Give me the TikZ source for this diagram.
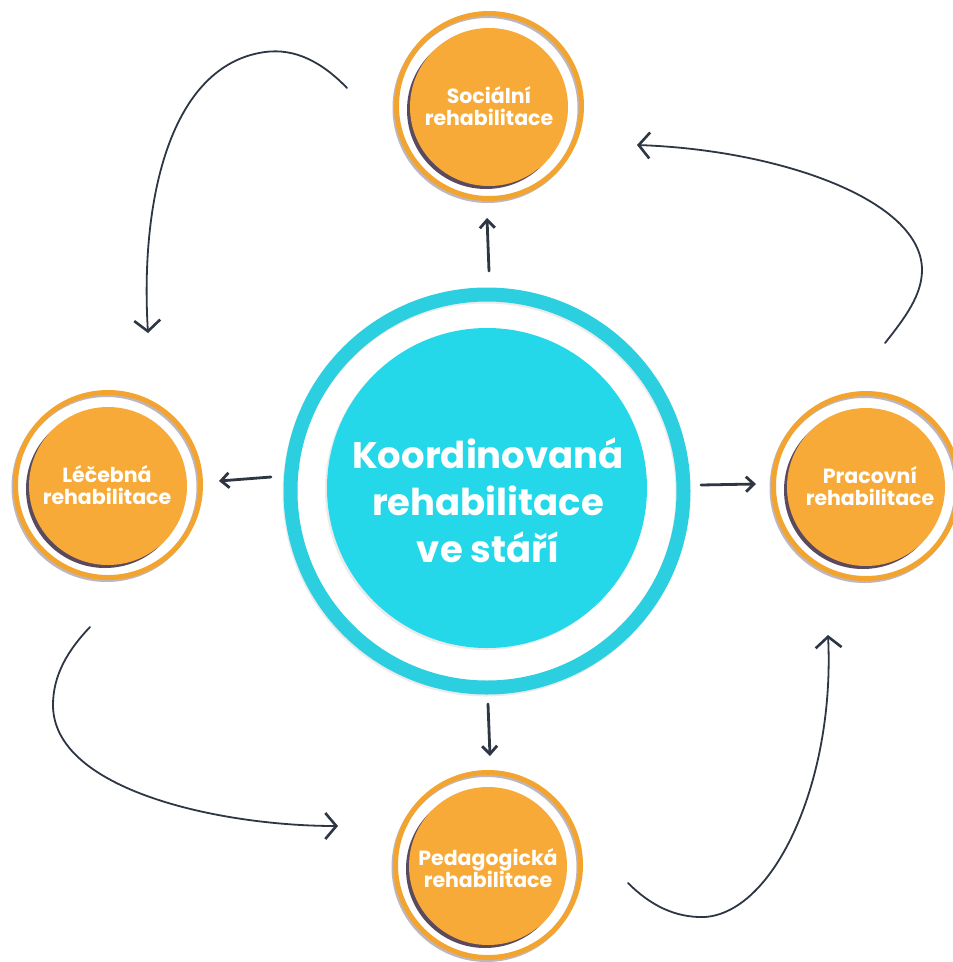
\documentclass[tikz,border=0pt]{standalone}
\usepackage{fontspec}
\setmainfont{Poppins}
\usetikzlibrary{arrows.meta}
\definecolor{orng}{HTML}{F7AA38}
\definecolor{orngring}{HTML}{F3A42E}
\definecolor{cyn}{HTML}{24D7E9}
\definecolor{cynring}{HTML}{2BCFE0}
\definecolor{ink}{HTML}{2E3644}
\definecolor{shade}{HTML}{5B4A5E}
\tikzset{
  oring/.style={circle, draw=orngring, line width=5pt, minimum size=185pt, inner sep=0pt},
  oringshadow/.style={circle, draw=shade, draw opacity=0.4, line width=5pt, minimum size=185pt, inner sep=0pt},
  odisk/.style={circle, fill=orng, minimum size=158pt, inner sep=0pt},
  odiskshadow/.style={circle, fill=shade, minimum size=158pt, inner sep=0pt},
  olabel/.style={text=white, font=\bfseries\fontsize{20.5}{22.5}\selectfont, align=center, inner sep=0pt},
  cring/.style={circle, draw=cynring, line width=14pt, minimum size=393pt, inner sep=0pt},
  cringshadow/.style={circle, draw=black, draw opacity=0.08, line width=14pt, minimum size=393pt, inner sep=0pt},
  cdisk/.style={circle, fill=cyn, minimum size=320pt, inner sep=0pt},
  cdiskshadow/.style={circle, fill=black, fill opacity=0.08, minimum size=320pt, inner sep=0pt},
  clabel/.style={text=white, font=\bfseries\fontsize{37}{47}\selectfont, align=center, inner sep=0pt},
  link/.style={draw=ink, line width=2.8pt, line cap=round, -{Straight Barb[length=8pt,width=15pt,line width=2.8pt]}},
  curve/.style={draw=ink, line width=1.8pt, line cap=round, -{Straight Barb[length=11pt,width=26pt,line width=2.6pt]}},
}
\begin{document}
\begin{tikzpicture}[x=1pt,y=-1pt]
\useasboundingbox[fill=white] (0,0) rectangle (953,962);

% central circle
\node[cringshadow] (cs) at (486,493) {};
\node[cring] (cr) at (487,491) {};
\node[cdiskshadow] (cds) at (485,490) {};
\node[cdisk] (cd) at (487,488) {};
\node[clabel] (ct) at (488,500) {Koordinovaná\\rehabilitace\\ve stáří};

% orange circles
\foreach \nm/\x/\y in {top/489/106, left/108/485, right/866/486, bot/488/865}{
  \node[oringshadow] (\nm rs) at (\x-1.5,\y+2) {};
  \node[oring] (\nm r) at (\x,\y) {};
  \node[odiskshadow] (\nm ds) at (\x-3,\y+4) {};
  \node[odisk] (\nm d) at (\x,\y+1) {};
}
\node[olabel] (topt) at (489,106) {Sociální\\rehabilitace};
\node[olabel] (leftt) at (107,485) {Léčebná\\rehabilitace};
\node[olabel] (rightt) at (870,486) {Pracovní\\rehabilitace};
\node[olabel] (bott) at (488,868) {Pedagogická\\rehabilitace};

% short arrows
\coordinate (a1s) at (489,271);
\coordinate (a1e) at (487,218);
\coordinate (a2s) at (271,477);
\coordinate (a2e) at (219,481);
\coordinate (a3s) at (701,485);
\coordinate (a3e) at (756,484);
\coordinate (a4s) at (488,704);
\coordinate (a4e) at (490,756);
\draw[link] (a1s) -- (a1e);
\draw[link] (a2s) -- (a2e);
\draw[link] (a3s) -- (a3e);
\draw[link] (a4s) -- (a4e);

% curved arrows
\coordinate (tl0) at (347,88);
\coordinate (tl1) at (265,52);
\coordinate (tl2) at (148,333);
\draw[curve] (tl0) .. controls (322,62) and (295,48) .. (tl1)
             .. controls (170,65) and (140,200) .. (tl2);

\coordinate (tr0) at (885,343);
\coordinate (tr1) at (922,270);
\coordinate (tr2) at (637,145);
\draw[curve] (tr0) .. controls (905,318) and (922,295) .. (tr1)
             .. controls (922,200) and (780,150) .. (tr2);

\coordinate (bl0) at (90,627);
\coordinate (bl1) at (53,705);
\coordinate (bl2) at (338,826);
\draw[curve] (bl0) .. controls (68,650) and (53,675) .. (bl1)
             .. controls (53,790) and (220,826) .. (bl2);

\coordinate (br0) at (628,883);
\coordinate (br1) at (705,917);
\coordinate (br2) at (828,635);
\draw[curve] (br0) .. controls (650,905) and (675,918) .. (br1)
             .. controls (775,912) and (835,780) .. (br2);
\end{tikzpicture}
\end{document}
